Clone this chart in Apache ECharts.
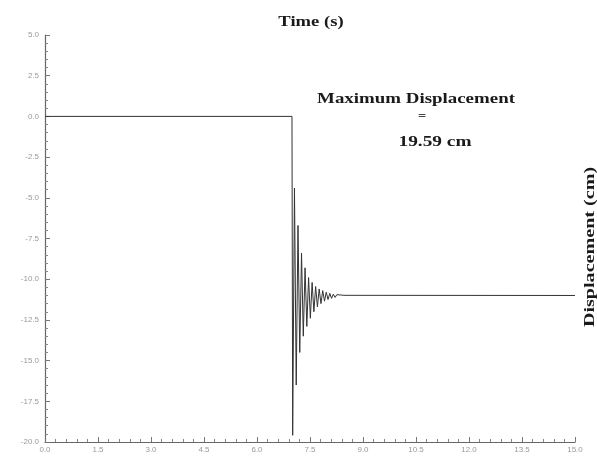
<!DOCTYPE html>
<html>
<head>
<meta charset="utf-8">
<script src="https://cdn.jsdelivr.net/npm/echarts@6/dist/echarts.min.js"></script>
<style>
html,body{margin:0;padding:0;background:#fff;}
#chart{width:597px;height:457px;}
</style>
</head>
<body>
<div id="chart"></div>
<script>
// Time (s) and displacement (cm)
const times = [0.0, 6.99, 7.01, 7.06, 7.11, 7.16, 7.21, 7.26, 7.31, 7.36, 7.41, 7.46, 7.51, 7.56, 7.61, 7.66, 7.71, 7.76, 7.81, 7.86, 7.91, 7.96, 8.01, 8.06, 8.11, 8.16, 8.21, 8.26, 8.31, 8.36, 8.41, 8.46, 8.51, 15.0];
const displacement = [0.0, 0.0, -19.59, -4.4, -16.5, -6.7, -14.5, -8.4, -13.5, -9.3, -12.9, -9.9, -12.4, -10.2, -12.0, -10.45, -11.7, -10.6, -11.5, -10.7, -11.35, -10.8, -11.25, -10.87, -11.18, -10.92, -11.12, -10.95, -11.07, -10.97, -11.04, -10.99, -11.0, -11.0];

const xTicks = {min: 0, max: 15, interval: 1.5};
const yTicks = {min: -20, max: 5, interval: 2.5};

const titleText = 'Time (s)';
const yAxisTitle = 'Displacement (cm)';
const annotation = ['Maximum Displacement', '=', '19.59 cm'];

const chart = echarts.init(document.getElementById('chart'));
const serif = "'Liberation Serif', 'DejaVu Serif', serif";
const tickLabel = {color: '#9a9a9a', fontSize: 8, fontFamily: "'Liberation Sans', sans-serif", formatter: v => v.toFixed(1)};
const axisLine = {show: true, onZero: false, lineStyle: {color: '#666', width: 1.2}};

function label(text, x, y, size, sx, rot, color) {
  return {
    type: 'text', x: x, y: y, scaleX: sx, rotation: rot || 0,
    style: {text: text, font: 'bold ' + size + 'px ' + serif, fill: color || '#1a1a1a', textAlign: 'center', textVerticalAlign: 'middle'}
  };
}

chart.setOption({
  animation: false,
  backgroundColor: '#fff',
  grid: {left: 45, right: 22, top: 35, bottom: 15, containLabel: false},
  xAxis: {
    type: 'value', min: xTicks.min, max: xTicks.max, interval: xTicks.interval,
    axisLine: axisLine,
    axisTick: {show: true, inside: true, length: 5, lineStyle: {color: '#777'}},
    minorTick: {show: true, splitNumber: 5, length: 3, lineStyle: {color: '#888'}},
    splitLine: {show: false},
    axisLabel: Object.assign({margin: 4}, tickLabel)
  },
  yAxis: {
    type: 'value', min: yTicks.min, max: yTicks.max, interval: yTicks.interval,
    axisLine: axisLine,
    axisTick: {show: true, inside: true, length: 5, lineStyle: {color: '#777'}},
    minorTick: {show: true, splitNumber: 5, length: 3, lineStyle: {color: '#888'}},
    splitLine: {show: false},
    axisLabel: Object.assign({margin: 6}, tickLabel)
  },
  series: [{
    type: 'line',
    data: times.map((t, i) => [t, displacement[i]]),
    showSymbol: false,
    lineStyle: {color: '#333', width: 1},
    silent: true
  }],
  graphic: [
    label(titleText, 311, 22, 15, 1.24),
    label(annotation[0], 416, 99, 15, 1.26),
    label(annotation[1], 422, 117, 12, 1.2, 0, '#444'),
    label(annotation[2], 435, 142, 15, 1.29),
    label(yAxisTitle, 590, 247, 15, 1.34, Math.PI / 2)
  ]
});
</script>
</body>
</html>
